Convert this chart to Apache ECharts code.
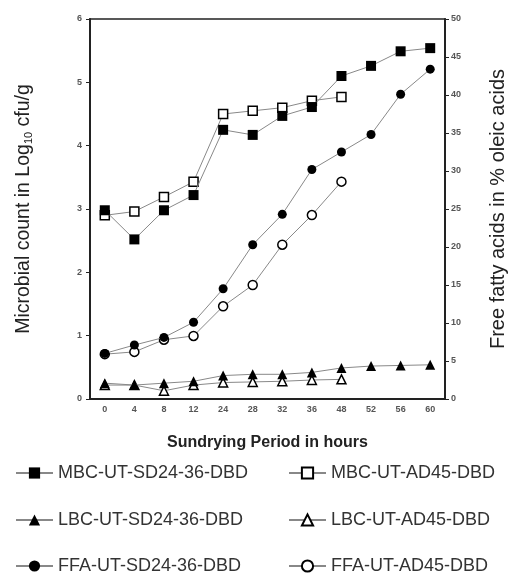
<!DOCTYPE html>
<html><head><meta charset="utf-8">
<script src="https://cdn.jsdelivr.net/npm/echarts@6/dist/echarts.min.js"></script>
<style>html,body{margin:0;padding:0;background:#fff}#c{width:510px;height:574px}</style>
</head><body><div id="c"></div>
<script>
const hours = ['0','4','8','12','24','28','32','36','48','52','56','60'];
const leftTicks = [0,1,2,3,4,5,6];
const rightTicks = [0,5,10,15,20,25,30,35,40,45,50];
const mbcSD = [2.98,2.52,2.98,3.22,4.25,4.17,4.47,4.61,5.1,5.26,5.49,5.54];
const mbcAD = [2.9,2.96,3.19,3.43,4.5,4.55,4.6,4.71,4.77];
const lbcSD = [0.25,0.22,0.25,0.28,0.37,0.39,0.39,0.42,0.49,0.52,0.53,0.54];
const lbcAD = [0.22,0.22,0.13,0.22,0.26,0.27,0.28,0.3,0.31];
const ffaSD = [6.0,7.1,8.1,10.1,14.5,20.3,24.3,30.2,32.5,34.8,40.1,43.4];
const ffaAD = [5.9,6.2,7.8,8.3,12.2,15.0,20.3,24.2,28.6];
const names = ['MBC-UT-SD24-36-DBD','MBC-UT-AD45-DBD','LBC-UT-SD24-36-DBD','LBC-UT-AD45-DBD','FFA-UT-SD24-36-DBD','FFA-UT-AD45-DBD'];

const chart = echarts.init(document.getElementById('c'));
const FF = 'Liberation Sans, Arial, sans-serif';
function ser(name, data, axis, symbol, filled, size){
  return {name, type:'line', data, yAxisIndex:axis, symbol, symbolSize:size,
    lineStyle:{color:'#888', width:1},
    itemStyle:{color: filled ? '#000' : '#fff', borderColor:'#000', borderWidth: filled?0:1.5},
    emphasis:{disabled:true}, animation:false, z: filled?4:3};
}
const legendText = {fontFamily:FF, fontSize:18, color:'#333'};
const rowsTop = [464, 511, 557];
const legends = names.map((n, i) => ({
  data:[n], left: (i % 2 === 0) ? 15 : 288, top: rowsTop[Math.floor(i/2)], padding:0,
  itemWidth:37, itemHeight:14, textStyle:legendText, selectedMode:false
}));
chart.setOption({
  animation:false,
  grid:{left:90, right:65, top:19, bottom:175, outerBoundsMode:'none', containLabel:false,
        show:true, borderColor:'#222', borderWidth:1.5},
  legend: legends,
  xAxis:{type:'category', data:hours, boundaryGap:true,
    name:'Sundrying Period in hours', nameLocation:'middle', nameGap:36,
    nameTextStyle:{fontFamily:FF, fontSize:16, fontWeight:'bold', color:'#222'},
    axisLine:{lineStyle:{color:'#222', width:2}},
    axisTick:{inside:true, length:3, lineStyle:{color:'#222'}},
    axisLabel:{fontFamily:FF, fontSize:9, fontWeight:'bold', color:'#555', margin:6}},
  yAxis:[
    {type:'value', min:0, max:6, interval:1, position:'left',
     name:'Microbial count in Log{s|10} cfu/g', nameLocation:'middle', nameRotate:90, nameGap:56,
     nameTextStyle:{fontFamily:FF, fontSize:19.5, color:'#222', rich:{s:{fontFamily:FF, fontSize:11, color:'#222', verticalAlign:'bottom'}}},
     axisLine:{show:true, lineStyle:{color:'#222', width:2}},
     axisTick:{show:true, length:4, lineStyle:{color:'#222'}},
     splitLine:{show:false},
     axisLabel:{fontFamily:FF, fontSize:9, fontWeight:'bold', color:'#555', margin:8}},
    {type:'value', min:0, max:50, interval:5, position:'right',
     name:'Free fatty acids in % oleic acids', nameLocation:'middle', nameRotate:90, nameGap:43,
     nameTextStyle:{fontFamily:FF, fontSize:20, color:'#222'},
     axisLine:{show:true, lineStyle:{color:'#222', width:2}},
     axisTick:{show:true, length:4, lineStyle:{color:'#222'}},
     splitLine:{show:false},
     axisLabel:{fontFamily:FF, fontSize:9, fontWeight:'bold', color:'#555', margin:6}}
  ],
  series:[
    ser(names[0], mbcSD, 0, 'rect', true, 10),
    ser(names[1], mbcAD, 0, 'rect', false, 9),
    ser(names[2], lbcSD, 0, 'triangle', true, 10),
    ser(names[3], lbcAD, 0, 'triangle', false, 9),
    ser(names[4], ffaSD, 1, 'circle', true, 9),
    ser(names[5], ffaAD, 1, 'circle', false, 9)
  ]
});
</script></body></html>
